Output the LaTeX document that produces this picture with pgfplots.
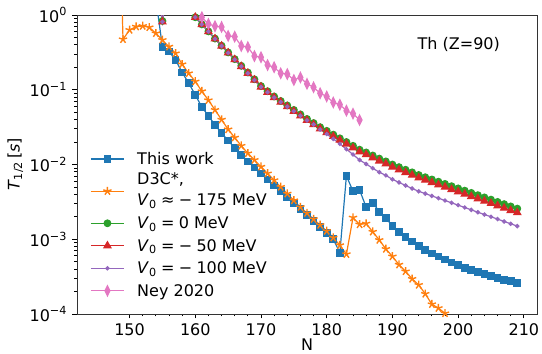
\documentclass[border=0pt]{standalone}
\usepackage{pgfplots}
\pgfplotsset{compat=1.18}
\usepackage{fontspec}
\setmainfont{DejaVu Sans}
\definecolor{c1}{HTML}{1F77B4}
\definecolor{c2}{HTML}{FF7F0E}
\definecolor{c3}{HTML}{2CA02C}
\definecolor{c4}{HTML}{D62728}
\definecolor{c5}{HTML}{9467BD}
\definecolor{c6}{HTML}{E377C2}
\newcommand{\Vz}{\textit{V}\textsubscript{0}}
\newcommand{\rs}{\hspace{0.27em}}
\newcommand{\lstrut}{\rule[-6bp]{0pt}{22.5bp}}
\begin{document}
\fontsize{16bp}{19bp}\selectfont
\begin{tikzpicture}
\begin{axis}[
  at={(0,0)}, anchor=south west,
  scale only axis, width=460bp, height=299bp,
  xmin=142, xmax=212, ymode=log, ymin=1e-4, ymax=1,
  xtick={150,160,170,180,190,200,210},
  minor x tick num=4,
  ytick={1e-4,1e-3,1e-2,1e-1,1},
  yticklabels={10\textsuperscript{−4},10\textsuperscript{−3},10\textsuperscript{−2},10\textsuperscript{−1},10\textsuperscript{0}},
  minor ytick={2e-4,3e-4,4e-4,5e-4,6e-4,7e-4,8e-4,9e-4,2e-3,3e-3,4e-3,5e-3,6e-3,7e-3,8e-3,9e-3,2e-2,3e-2,4e-2,5e-2,6e-2,7e-2,8e-2,9e-2,0.2,0.3,0.4,0.5,0.6,0.7,0.8,0.9},
  tick align=outside, tick pos=left,
  major tick length=4.5bp, minor tick length=2.5bp,
  tick style={black, line width=0.8bp},
  axis line style={black!80, line width=0.8bp},
  /pgf/number format/assume math mode=true,
  xlabel={N},
  ylabel={\textit{T}\textsubscript{1/2}\,[\textit{s}]},
  xlabel style={at={(axis description cs:0.5,-0.103)}, anchor=center},
  ylabel style={at={(axis description cs:-0.134,0.5)}, anchor=center},
  legend cell align=left,
  legend style={
    at={(axis description cs:0.029,0.040)}, anchor=south west,
    draw=none, fill=none, inner sep=0pt, outer sep=0pt,
    row sep=0pt,
    nodes={inner sep=0pt, text depth=},
    /tikz/every odd column/.append style={column sep=12.7bp},
  },
  legend image code/.code={\draw[mark repeat=2,mark phase=2] plot coordinates {(0bp,0bp) (16.5bp,0bp) (33bp,0bp)};},
]
\addplot[c1, line width=1.2bp, mark=square*, mark size=3.3bp, mark options={solid, fill=c1}] coordinates {
(153,4.0)(154,1.66)(155,0.372)(156,0.324)(157,0.251)(158,0.170)(159,0.123)(160,0.0851)(161,0.0589)(162,0.0447)(163,0.0339)(164,0.0263)(165,0.0209)(166,0.0166)(167,0.0135)(168,0.0110)(169,0.00912)(170,0.00759)(171,0.00631)(172,0.00525)(173,0.00437)(174,0.00363)(175,0.00302)(176,0.00251)(177,0.00209)(178,0.00174)(179,0.00145)(180,0.00120)(181,0.00100)(182,0.000661)(183,0.00708)(184,0.00437)(185,0.00457)(186,0.00269)(187,0.00309)(188,0.00234)(189,0.00191)(190,0.00151)(191,0.00126)(192,0.00107)(193,0.000933)(194,0.000813)(195,0.000724)(196,0.000646)(197,0.000589)(198,0.000537)(199,0.000490)(200,0.000447)(201,0.000417)(202,0.000389)(203,0.000363)(204,0.000339)(205,0.000324)(206,0.000302)(207,0.000288)(208,0.000275)(209,0.000263)
};
\addlegendentry{{This work\lstrut}}
\addplot[c2, line width=1.2bp, mark=star, mark size=4.3bp, mark options={solid, fill=c2, line width=1.4bp}] coordinates {
(148,1000)(149,0.473)(150,0.631)(151,0.698)(152,0.713)(153,0.684)(154,0.569)(155,0.463)(156,0.377)(157,0.307)(158,0.219)(159,0.166)(160,0.129)(161,0.0955)(162,0.0724)(163,0.0537)(164,0.0398)(165,0.0295)(166,0.0229)(167,0.0178)(168,0.0141)(169,0.0115)(170,0.00933)(171,0.00759)(172,0.00617)(173,0.00501)(174,0.00407)(175,0.00331)(176,0.00269)(177,0.00224)(178,0.00186)(179,0.00155)(180,0.00129)(181,0.00105)(182,0.000832)(183,0.000631)(184,0.00195)(185,0.00158)(186,0.00162)(187,0.00126)(188,0.000977)(189,0.000741)(190,0.000589)(191,0.000457)(192,0.000372)(193,0.000295)(194,0.000245)(195,0.000186)(196,0.000135)(197,0.000120)(198,0.000102)(199,0.0000759)(200,0.0000562)
};
\addlegendentry{{\def\arraystretch{1.1}\begin{tabular}{@{}l@{}}D3C*,\\ \Vz\rs≈\rs−\rs175 MeV\end{tabular}}}
\addplot[c3, line width=1.2bp, mark=*, mark size=3.3bp, mark options={solid, fill=c3}] coordinates {
(153,3.98)(154,3.16)(155,0.832)(156,3.16)(157,2.24)(158,1.58)(159,1.15)(160,0.933)(161,0.750)(162,0.603)(163,0.484)(164,0.389)(165,0.316)(166,0.257)(167,0.209)(168,0.170)(169,0.138)(170,0.112)(171,0.0955)(172,0.0813)(173,0.0708)(174,0.0617)(175,0.0537)(176,0.0468)(177,0.0407)(178,0.0359)(179,0.0316)(180,0.0282)(181,0.0251)(182,0.0224)(183,0.0200)(184,0.0178)(185,0.0158)(186,0.0145)(187,0.0132)(188,0.0120)(189,0.0110)(190,0.0100)(191,0.00923)(192,0.00851)(193,0.00785)(194,0.00724)(195,0.00676)(196,0.00631)(197,0.00589)(198,0.00550)(199,0.00513)(200,0.00479)(201,0.00447)(202,0.00417)(203,0.00389)(204,0.00363)(205,0.00339)(206,0.00316)(207,0.00295)(208,0.00275)(209,0.00257)
};
\addlegendentry{{\Vz\rs=\rs0 MeV\lstrut}}
\addplot[c4, line width=1.2bp, mark=triangle*, mark size=4bp, mark options={solid, fill=c4}] coordinates {
(153,3.98)(154,3.16)(155,0.81)(156,3.16)(157,2.24)(158,1.58)(159,1.15)(160,0.933)(161,0.748)(162,0.600)(163,0.480)(164,0.385)(165,0.312)(166,0.253)(167,0.205)(168,0.1665)(169,0.1348)(170,0.1091)(171,0.0928)(172,0.0788)(173,0.0685)(174,0.0595)(175,0.0517)(176,0.0449)(177,0.0390)(178,0.0343)(179,0.0301)(180,0.0268)(181,0.0238)(182,0.0212)(183,0.01885)(184,0.01673)(185,0.01481)(186,0.01356)(187,0.01231)(188,0.01116)(189,0.01021)(190,0.00926)(191,0.00852)(192,0.00784)(193,0.00721)(194,0.00663)(195,0.00618)(196,0.00575)(197,0.00535)(198,0.00499)(199,0.00464)(200,0.00432)(201,0.00402)(202,0.00374)(203,0.00348)(204,0.00324)(205,0.00302)(206,0.00281)(207,0.00261)(208,0.00243)(209,0.00227)
};
\addlegendentry{{\Vz\rs=\rs−\rs50 MeV\lstrut}}
\addplot[c5, line width=1.2bp, mark=*, mark size=1.6bp, mark options={solid, fill=c5}] coordinates {
(153,3.98)(154,3.16)(155,0.81)(156,3.16)(157,2.24)(158,1.58)(159,1.15)(160,0.933)(161,0.748)(162,0.600)(163,0.480)(164,0.385)(165,0.312)(166,0.253)(167,0.205)(168,0.1665)(169,0.1348)(170,0.1091)(171,0.0928)(172,0.0788)(173,0.0685)(174,0.0595)(175,0.0517)(176,0.0449)(177,0.0390)(178,0.0343)(179,0.0294)(180,0.0256)(181,0.0220)(182,0.0189)(183,0.01604)(184,0.01360)(185,0.01149)(186,0.01017)(187,0.00891)(188,0.00790)(189,0.00715)(190,0.00633)(191,0.00576)(192,0.00524)(193,0.00477)(194,0.00438)(195,0.00408)(196,0.00380)(197,0.00354)(198,0.00330)(199,0.00307)(200,0.00286)(201,0.00266)(202,0.00247)(203,0.00230)(204,0.00214)(205,0.00200)(206,0.00186)(207,0.00173)(208,0.00161)(209,0.00150)
};
\addlegendentry{{\Vz\rs=\rs−\rs100 MeV\lstrut}}
\addplot[c6, line width=1.2bp, mark=diamond*, mark size=5bp, mark options={solid, fill=c6, xscale=0.65}] coordinates {
(160,1.26)(161,0.933)(162,0.759)(163,0.708)(164,0.692)(165,0.525)(166,0.513)(167,0.385)(168,0.372)(169,0.282)(170,0.272)(171,0.214)(172,0.200)(173,0.166)(174,0.162)(175,0.135)(176,0.146)(177,0.120)(178,0.108)(179,0.0897)(180,0.0813)(181,0.0676)(182,0.0631)(183,0.0525)(184,0.0479)(185,0.0394)
};
\addlegendentry{{Ney 2020\lstrut}}
\node[anchor=center] at (rel axis cs:0.83,0.9) {Th (Z=90)};
\end{axis}
\pgfresetboundingbox
\path (-77bp,-40bp) rectangle (465bp,314bp);
\end{tikzpicture}
\end{document}
